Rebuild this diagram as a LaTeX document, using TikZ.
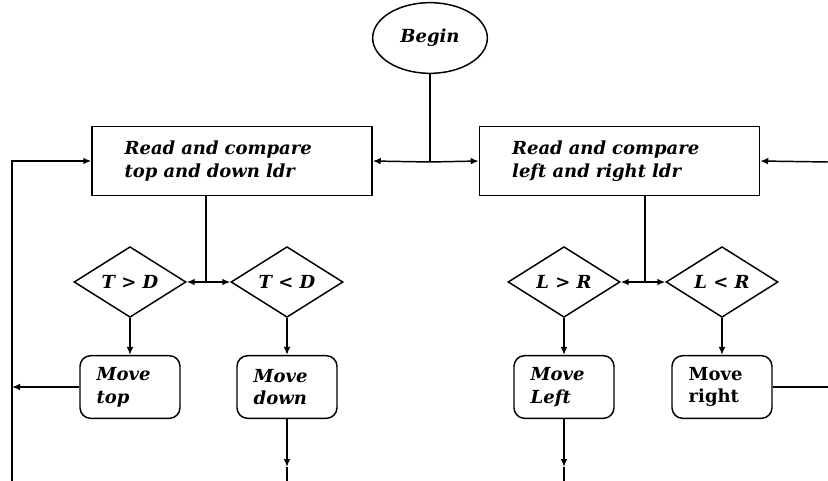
\documentclass[tikz,border=0pt]{standalone}
\usepackage{fontspec}
\setmainfont{DejaVu Serif}
\usetikzlibrary{shapes.geometric,arrows.meta}

\begin{document}
\begin{tikzpicture}
[x=0.75pt,y=-0.75pt,
  font=\fontsize{13.5}{17}\selectfont\bfseries\itshape,
  linedecorate/.style={line width=1.1pt},
  arrowdecorate/.style={linedecorate,-{Latex[length=6pt,width=5pt]}},
  startdecorate/.style={shape=ellipse,draw,linedecorate,inner sep=0pt,minimum width=86pt,minimum height=53pt},
  readdecorate/.style={shape=rectangle,draw,linedecorate,minimum width=210pt,minimum height=52pt,text width=161pt,align=left},
  testdecorate/.style={shape=diamond,draw,linedecorate,minimum width=84pt,minimum height=53pt,inner sep=0pt},
  movedecorate/.style={shape=rectangle,rounded corners=8pt,draw,linedecorate,minimum width=75pt,minimum height=47pt,text width=50pt,align=left}]
\useasboundingbox (0,0) rectangle (828,481);
%% start and reading nodes
\node (begin) at (430,38) [startdecorate] {Begin};
\node (readtd) at (232,161) [readdecorate] {Read and compare\\top and down ldr};
\node (readlr) at (619.5,161) [readdecorate] {Read and compare\\left and right ldr};
%% decision nodes
\foreach \nodename/\x/\txt in {tgd/130/T > D, tld/287/T < D, lgr/564/L > R, llr/722/L < R} {
  \node (\nodename) at (\x,282) [testdecorate] {\txt};
}
%% motor nodes
\foreach \nodename/\x/\txt in {mtop/130/Move\\top, mdown/287/Move\\down, mleft/564/Move\\Left, mright/722/\upshape Move\\right} {
  \node (\nodename) at (\x,387) [movedecorate] {\txt};
}
%% split points and rails
\coordinate (topsplit) at (430,162);
\coordinate (tdsplit) at (206,282);
\coordinate (lrsplit) at (645,282);
\coordinate (leftrail) at (12,481);
\coordinate (rightrail) at (828,162);
\coordinate (downtip) at (0,467);
%% edges or lines
\draw[linedecorate] (begin) -- (topsplit);
\draw[arrowdecorate] (topsplit) -- (readtd.east);
\draw[arrowdecorate] (topsplit) -- (readlr.west);
\draw[arrowdecorate] (leftrail) |- (readtd.west);
\draw[arrowdecorate] (rightrail) -- (readlr.east);
\draw[linedecorate] (tdsplit |- readtd.south) -- (tdsplit);
\draw[linedecorate] (lrsplit |- readlr.south) -- (lrsplit);
\foreach \startnode/\endnode in {tdsplit/tgd.east, tdsplit/tld.west, lrsplit/lgr.east, lrsplit/llr.west,
  tgd/mtop, tld/mdown, lgr/mleft, llr/mright} {
  \draw[arrowdecorate] (\startnode) -- (\endnode);
}
\draw[arrowdecorate] (mtop.west) -- (mtop.west -| leftrail);
\draw[linedecorate] (mright.east) -- (mright.east -| rightrail);
\foreach \nodename in {mdown, mleft} {
  \draw[arrowdecorate] (\nodename.south) -- (\nodename.south |- downtip);
  \draw[linedecorate] (\nodename.south |- downtip) -- (\nodename.south |- leftrail);
}
\end{tikzpicture}
\end{document}
